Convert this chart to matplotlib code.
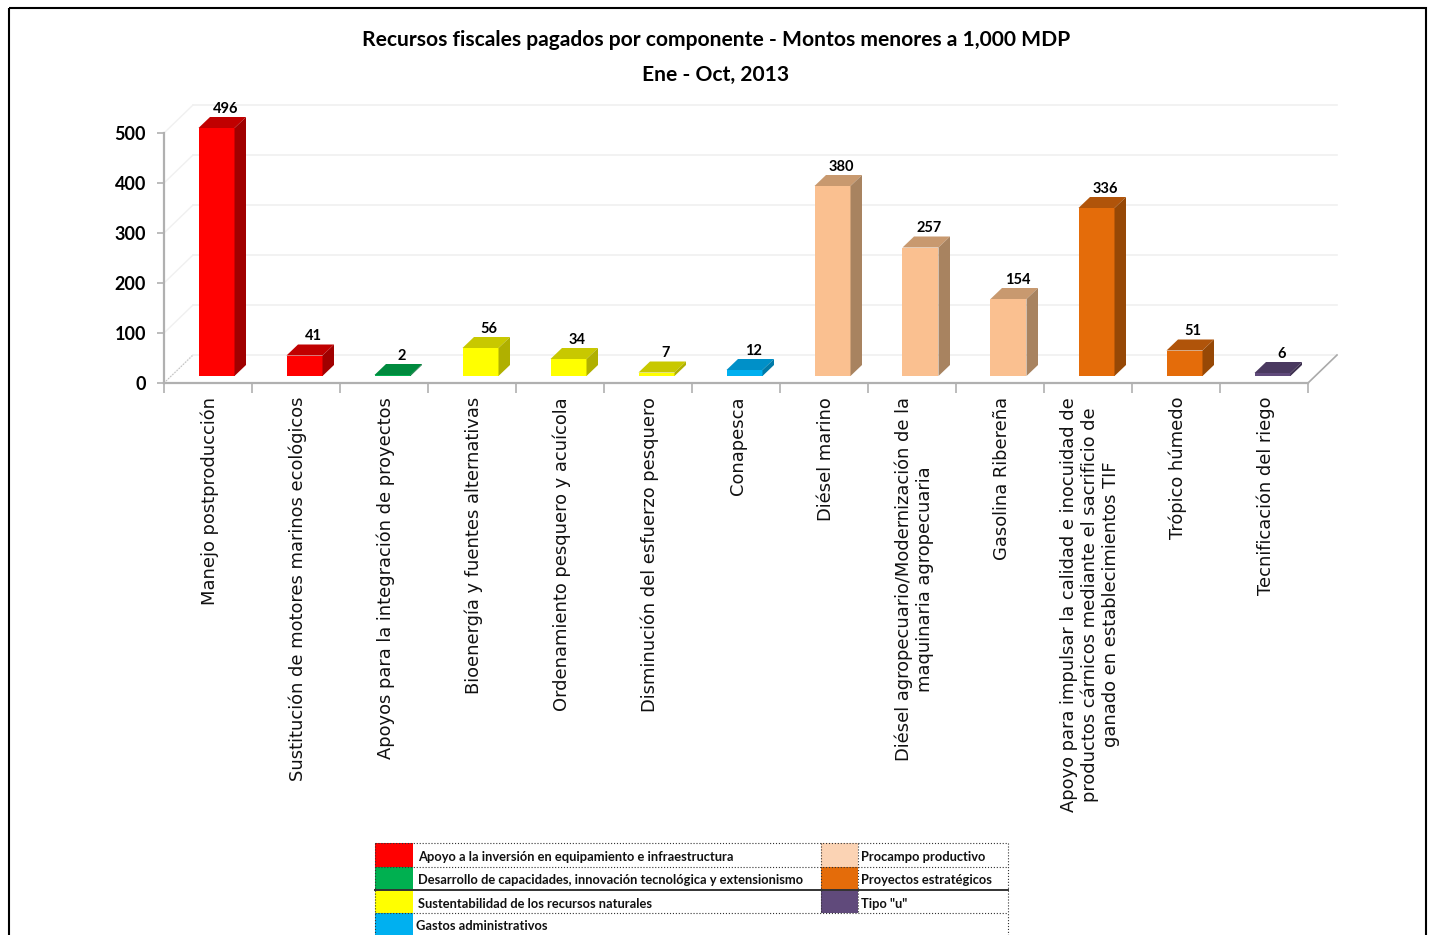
import matplotlib
matplotlib.use("Agg")
import matplotlib.pyplot as plt
from matplotlib.patches import Rectangle
from matplotlib.transforms import ScaledTranslation
import numpy as np

W, H = 1429, 935
NARROW = ["Lato", "Liberation Sans"]

categories = [
    "Manejo postproducción",
    "Sustitución de motores marinos ecológicos",
    "Apoyos para la integración de proyectos",
    "Bioenergía y fuentes alternativas",
    "Ordenamiento pesquero y acuícola",
    "Disminución del esfuerzo pesquero",
    "Conapesca",
    "Diésel marino",
    "Diésel agropecuario/Modernización de la\nmaquinaria agropecuaria",
    "Gasolina Ribereña",
    "Apoyo para impulsar la calidad e inocuidad de\nproductos cárnicos mediante el sacrificio de\nganado en establecimientos TIF",
    "Trópico húmedo",
    "Tecnificación del riego",
]
values = [496, 41, 2, 56, 34, 7, 12, 380, 257, 154, 336, 51, 6]
groups = [0, 0, 1, 2, 2, 2, 3, 4, 4, 4, 5, 5, 6]

# front, top, side
palette = [
    ("#FF0000", "#C00000", "#A00000"),
    ("#00B050", "#008A3E", "#006B30"),
    ("#FFFF00", "#C8C800", "#B0B000"),
    ("#00B0F0", "#0090C8", "#007AA8"),
    ("#FAC090", "#C8996F", "#A88360"),
    ("#E46C0A", "#B0540A", "#964806"),
    ("#604A7B", "#4A3960", "#3C2E4E"),
]

legend_left = [
    "Apoyo a la inversión en equipamiento e infraestructura",
    "Desarrollo de capacidades, innovación tecnológica y extensionismo",
    "Sustentabilidad de los recursos naturales",
    "Gastos administrativos",
]
legend_right = ["Procampo productivo", "Proyectos estratégicos", 'Tipo "u"']
legend_left_colors = ["#FF0000", "#00B050", "#FFFF00", "#00B0F0"]
legend_right_colors = ["#FBD3B4", "#E46C0A", "#604A7B"]

fig = plt.figure(figsize=(W / 100, H / 100), dpi=100, facecolor="white")

# overlay in pixel coordinates for frame, title and legend table
bg = fig.add_axes([0, 0, 1, 1])
bg.set_xlim(0, W)
bg.set_ylim(H, 0)
bg.axis("off")
bg.add_patch(Rectangle((9, 8), 1417, 1000, fill=False, ec="black", lw=1.5))
bg.text(716, 40, "Recursos fiscales pagados por componente - Montos menores a 1,000 MDP",
        ha="center", va="center", fontsize=15.1, fontweight="bold", family=NARROW)
bg.text(716, 75, "Ene - Oct, 2013", ha="center", va="center", fontsize=15.1,
        fontweight="bold", family=NARROW)

rows = [843, 867, 890, 913, 936]
for i, (name, col) in enumerate(zip(legend_left, legend_left_colors)):
    bg.add_patch(Rectangle((375, rows[i]), 38, rows[i + 1] - rows[i], fc=col, ec="none"))
    bg.text(418 if i < 3 else 416, (rows[i] + rows[i + 1]) / 2 + 2, name, va="center",
            fontsize=9.3, fontweight="bold", family=NARROW, color="#111111")
for i, (name, col) in enumerate(zip(legend_right, legend_right_colors)):
    bg.add_patch(Rectangle((821, rows[i]), 37, rows[i + 1] - rows[i], fc=col, ec="none"))
    bg.text(861, (rows[i] + rows[i + 1]) / 2 + 2, name, va="center",
            fontsize=9.3, fontweight="bold", family=NARROW, color="#111111")
for y in rows[:4]:
    bg.plot([375, 1008], [y, y], color="#333333", lw=1.4 if y == 890 else 0.8,
            ls="-" if y == 890 else ":")
for x in [375, 1008]:
    bg.plot([x, x], [843, 935], color="#333333", lw=0.8, ls=":")
for x in [821, 858]:
    bg.plot([x, x], [843, 913], color="#333333", lw=0.8, ls=":")

# chart: front plane of the 3D box, x 164-1308 px, y 383 (0) - 133 (500) px
ax = fig.add_axes([164 / W, 1 - 383 / H, 1144 / W, 250 / H])
ax.patch.set_alpha(0)
n = len(values)
ax.set_xlim(0, n)
ax.set_ylim(0, 500)

depth_x, depth_y = 29 / 88, 56          # floor/wall depth
bar_w, bar_off = 36 / 88, 8.5 / 88      # bar width and shift from category centre
bar_dx, bar_dy = 11.5 / 88, 22          # bar depth
base = 14

yticks = np.arange(0, 501, 100)
for y in yticks:
    ax.plot([0, depth_x], [y, y + depth_y], color="#F0F0F0", lw=1, clip_on=False, zorder=1)
    ax.plot([depth_x, n + depth_x], [y + depth_y, y + depth_y], color="#F0F0F0", lw=1.2,
            clip_on=False, zorder=1)
ax.plot([0, depth_x], [0, depth_y], color="#BBBBBB", lw=0.8, ls=":", clip_on=False, zorder=1)
ax.plot([n, n + depth_x], [0, depth_y], color="#AAAAAA", lw=1.2, clip_on=False, zorder=1)

x = np.arange(n) + 0.5 + bar_off
fronts = [palette[g][0] for g in groups]
ax.bar(x, values, width=bar_w, bottom=base, color=fronts, zorder=3, clip_on=False)
for xi, v, g in zip(x, values, groups):
    l, r = xi - bar_w / 2, xi + bar_w / 2
    top = base + v
    ax.fill([l, r, r + bar_dx, l + bar_dx], [top, top, top + bar_dy, top + bar_dy],
            color=palette[g][1], lw=0, zorder=3, clip_on=False)
    ax.fill([r, r + bar_dx, r + bar_dx, r], [base, base + bar_dy, top + bar_dy, top],
            color=palette[g][2], lw=0, zorder=3, clip_on=False)
    ax.annotate(str(v), (xi + 0.1, top + bar_dy), xytext=(0, 1), textcoords="offset points",
                ha="center", va="bottom", fontsize=10.5, fontweight="bold", family=NARROW,
                zorder=4, annotation_clip=False)

for side in ["top", "right"]:
    ax.spines[side].set_visible(False)
for side in ["left", "bottom"]:
    ax.spines[side].set_color("#B0B0B0")
    ax.spines[side].set_linewidth(1.6)

ax.set_yticks(yticks)
ax.set_yticklabels([str(v) for v in yticks], fontsize=13, fontweight="bold", family=NARROW)
ax.tick_params(axis="y", length=5, width=1.2, color="#B0B0B0", pad=8)
ax.set_xticks(np.arange(n + 1))
ax.set_xticklabels([])
ax.tick_params(axis="x", which="major", length=7, width=1.2, color="#B0B0B0")
ax.set_xticks(np.arange(n) + 0.5, minor=True)
ax.set_xticklabels(categories, minor=True, rotation=90, fontsize=12.9, ha="center", va="top",
                   multialignment="center", color="#111111", family=["DejaVu Sans"])
ax.tick_params(axis="x", which="minor", length=0, pad=10)
# nudge category labels 2 px to the right
shift = ScaledTranslation(2 / 100, 0, fig.dpi_scale_trans)
for lab in ax.get_xticklabels(minor=True):
    lab.set_transform(lab.get_transform() + shift)

fig.savefig("out.png", dpi=100)
